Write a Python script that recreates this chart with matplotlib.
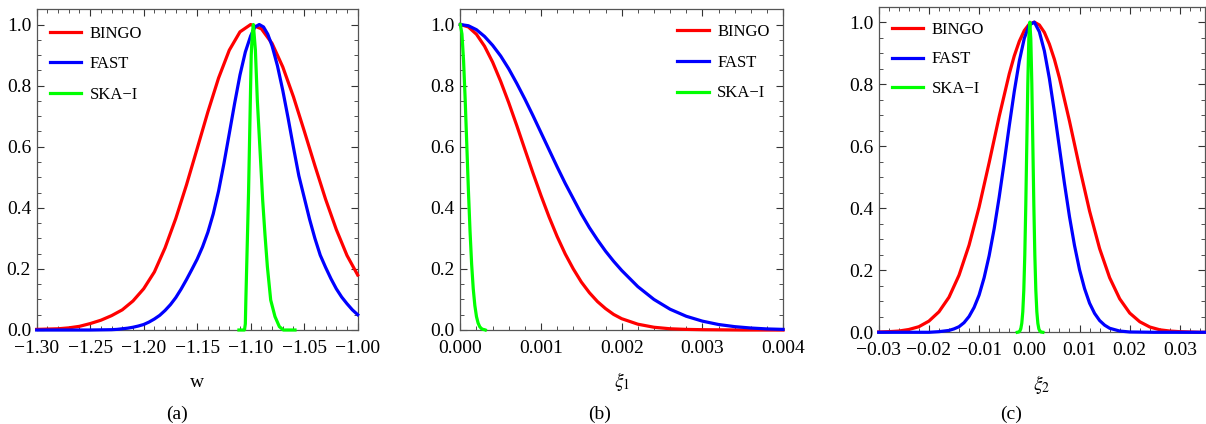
import matplotlib
matplotlib.use("Agg")
import matplotlib.pyplot as plt
from matplotlib.ticker import MultipleLocator, FuncFormatter

plt.rcParams['font.family'] = ['Liberation Serif', 'DejaVu Serif']
plt.rcParams['mathtext.fontset'] = 'stix'

labels = ['BINGO', 'FAST', 'SKA\u2212I']
colors = ['#ff0000', '#0000ff', '#00ff00']

# (a) w
w_bingo_x = [-1.30, -1.29, -1.28, -1.27, -1.26, -1.25, -1.24, -1.23, -1.22, -1.21,
             -1.20, -1.19, -1.18, -1.17, -1.16, -1.15, -1.14, -1.13, -1.12, -1.11,
             -1.10, -1.09, -1.08, -1.07, -1.06, -1.05, -1.04, -1.03, -1.02, -1.01,
             -1.00]
w_bingo_y = [0.002, 0.003, 0.004, 0.007, 0.012, 0.021, 0.032, 0.047, 0.066, 0.095,
             0.135, 0.190, 0.269, 0.365, 0.475, 0.594, 0.714, 0.825, 0.916, 0.976,
             1.000, 0.986, 0.938, 0.861, 0.763, 0.652, 0.538, 0.428, 0.329, 0.244,
             0.180]
w_fast_x = [-1.300, -1.250, -1.230, -1.225, -1.220, -1.215, -1.210, -1.205, -1.200, -1.195,
            -1.190, -1.185, -1.180, -1.175, -1.170, -1.165, -1.160, -1.155, -1.150, -1.145,
            -1.140, -1.135, -1.130, -1.125, -1.120, -1.115, -1.110, -1.105, -1.100, -1.096,
            -1.092, -1.088, -1.084, -1.080, -1.075, -1.070, -1.065, -1.060, -1.055, -1.050,
            -1.045, -1.040, -1.035, -1.030, -1.025, -1.020, -1.015, -1.010, -1.005, -1.000]
w_fast_y = [0.000, 0.000, 0.001, 0.002, 0.004, 0.006, 0.009, 0.013, 0.018, 0.026,
            0.036, 0.048, 0.064, 0.083, 0.106, 0.134, 0.165, 0.198, 0.232, 0.272,
            0.320, 0.380, 0.455, 0.545, 0.643, 0.742, 0.835, 0.910, 0.963, 0.992,
            1.000, 0.992, 0.968, 0.930, 0.865, 0.784, 0.693, 0.597, 0.505, 0.434,
            0.363, 0.300, 0.245, 0.205, 0.168, 0.135, 0.108, 0.086, 0.066, 0.050]
w_ska_x = [-1.1110, -1.1058, -1.1050, -1.1045, -1.1020, -1.0995, -1.0985, -1.0975, -1.0956, -1.0938,
           -1.0913, -1.0888, -1.0866, -1.0844, -1.0813, -1.0773, -1.0732, -1.0695, -1.0586]
w_ska_y = [0.000, 0.000, 0.020, 0.100, 0.450, 0.900, 0.970, 1.000, 0.916, 0.752,
           0.590, 0.425, 0.310, 0.207, 0.098, 0.044, 0.011, 0.000, 0.000]

# (b) xi_1
xi1_bingo_x = [0.0, 0.0001, 0.0002, 0.0003, 0.0004, 0.0005, 0.0006, 0.0007, 0.0008, 0.0009,
               0.0010, 0.0011, 0.0012, 0.0013, 0.0014, 0.0015, 0.0016, 0.0017, 0.0018, 0.0019,
               0.0020, 0.0022, 0.0024, 0.0026, 0.0028, 0.0030, 0.0035, 0.0040]
xi1_bingo_y = [1.000, 0.992, 0.968, 0.929, 0.877, 0.814, 0.744, 0.669, 0.591, 0.514,
               0.440, 0.370, 0.306, 0.249, 0.200, 0.157, 0.122, 0.093, 0.070, 0.051,
               0.037, 0.019, 0.009, 0.004, 0.002, 0.001, 0.000, 0.000]
xi1_fast_x = [0.0, 0.0001, 0.0002, 0.0003, 0.0004, 0.0005, 0.0006, 0.0007, 0.0008, 0.0009,
              0.0010, 0.0011, 0.0012, 0.0013, 0.0014, 0.0015, 0.0016, 0.0017, 0.0018, 0.0019,
              0.0020, 0.0022, 0.0024, 0.0026, 0.0028, 0.0030, 0.0032, 0.0034, 0.0036, 0.0038,
              0.0040]
xi1_fast_y = [1.000, 0.996, 0.983, 0.961, 0.932, 0.897, 0.855, 0.807, 0.756, 0.702,
              0.646, 0.590, 0.534, 0.480, 0.430, 0.380, 0.335, 0.295, 0.258, 0.225,
              0.195, 0.142, 0.100, 0.068, 0.045, 0.029, 0.018, 0.011, 0.0065, 0.0035,
              0.002]
xi1_ska_x = [0.0, 0.00002, 0.00004, 0.00006, 0.00008, 0.00010, 0.00012, 0.00014, 0.00016,
             0.00018, 0.00020, 0.00022, 0.00024, 0.00026, 0.00028, 0.00030, 0.00031]
xi1_ska_y = [1.000, 0.969, 0.882, 0.755, 0.607, 0.458, 0.325, 0.216, 0.135,
             0.080, 0.044, 0.023, 0.011, 0.005, 0.002, 0.001, 0.000]

# (c) xi_2
xi2_bingo_x = [-0.030, -0.028, -0.026, -0.024, -0.022, -0.020, -0.018, -0.016, -0.014, -0.012,
               -0.010, -0.008, -0.006, -0.004, -0.003, -0.002, -0.001, 0.000, 0.001, 0.002,
               0.003, 0.004, 0.005, 0.006, 0.008, 0.010, 0.012, 0.014, 0.016, 0.018,
               0.020, 0.022, 0.024, 0.026, 0.028, 0.030, 0.032, 0.034, 0.035]
xi2_bingo_y = [0.001, 0.002, 0.004, 0.009, 0.018, 0.036, 0.066, 0.113, 0.184, 0.281,
               0.404, 0.547, 0.696, 0.833, 0.891, 0.938, 0.973, 0.994, 1.000, 0.991,
               0.967, 0.929, 0.880, 0.820, 0.681, 0.532, 0.391, 0.270, 0.176, 0.108,
               0.062, 0.034, 0.017, 0.008, 0.004, 0.002, 0.001, 0.000, 0.000]
xi2_fast_x = [-0.030, -0.025, -0.020, -0.018, -0.016, -0.015, -0.014, -0.013, -0.012, -0.011,
              -0.010, -0.009, -0.008, -0.007, -0.006, -0.005, -0.004, -0.003, -0.002, -0.001,
              0.000, 0.001, 0.002, 0.003, 0.004, 0.005, 0.006, 0.007, 0.008, 0.009,
              0.010, 0.011, 0.012, 0.013, 0.014, 0.015, 0.016, 0.018, 0.020, 0.025,
              0.030, 0.035]
xi2_fast_y = [0.000, 0.000, 0.000, 0.002, 0.006, 0.011, 0.018, 0.031, 0.051, 0.080,
              0.120, 0.176, 0.247, 0.334, 0.436, 0.548, 0.665, 0.776, 0.874, 0.948,
              0.991, 1.000, 0.969, 0.907, 0.818, 0.710, 0.595, 0.480, 0.373, 0.280,
              0.202, 0.141, 0.094, 0.061, 0.038, 0.023, 0.013, 0.004, 0.001, 0.000,
              0.000, 0.000]
xi2_ska_x = [-0.0024, -0.0021, -0.0019, -0.0017, -0.0015, -0.0013, -0.0011, -0.0009, -0.0007,
             -0.0005, -0.0003, -0.0001, 0.0001, 0.0003, 0.0005, 0.0007, 0.0009, 0.0011,
             0.0013, 0.0015, 0.0017, 0.0019, 0.0021, 0.0023, 0.0027]
xi2_ska_y = [0.000, 0.001, 0.004, 0.011, 0.029, 0.066, 0.135, 0.249, 0.411,
             0.607, 0.801, 0.946, 1.000, 0.946, 0.801, 0.607, 0.411, 0.249,
             0.135, 0.066, 0.029, 0.011, 0.004, 0.001, 0.000]


def fmt(nd):
    def f(v, pos):
        s = f'{round(v, nd) + 0.0:.{nd}f}'
        return s.replace('-', '\u2212')
    return FuncFormatter(f)


def setup(ax, xlim, xmaj, xmin, nd, xlabel, leg_xy, spacing):
    ax.set_xlim(*xlim)
    ax.set_ylim(0, 1.05)
    ax.xaxis.set_major_locator(MultipleLocator(xmaj))
    ax.xaxis.set_minor_locator(MultipleLocator(xmin))
    ax.yaxis.set_major_locator(MultipleLocator(0.2))
    ax.yaxis.set_minor_locator(MultipleLocator(0.05))
    ax.xaxis.set_major_formatter(fmt(nd))
    ax.yaxis.set_major_formatter(fmt(1))
    ax.tick_params(which='both', direction='in', top=True, right=True, color='#333333')
    ax.tick_params(which='major', length=5, width=0.8, labelsize=14)
    ax.tick_params(which='minor', length=2.7, width=0.6)
    ax.tick_params(axis='x', pad=7)
    ax.tick_params(axis='y', pad=4)
    for sp in ax.spines.values():
        sp.set_color('#555555')
        sp.set_linewidth(0.9)
    ax.set_xlabel(xlabel, fontsize=14)
    ax.xaxis.label.set_va('baseline')
    ax.xaxis.set_label_coords(0.5, -0.178)
    ax.legend(frameon=False, loc='upper left', bbox_to_anchor=leg_xy,
              borderaxespad=0, borderpad=0, handlelength=1.9, handletextpad=0.5,
              labelspacing=spacing, fontsize=12)


fig = plt.figure(figsize=(12.06, 4.24), dpi=100)
ax1 = fig.add_axes([0.0304, 0.2217, 0.2662, 0.7565])
ax2 = fig.add_axes([0.3817, 0.2217, 0.2676, 0.7565])
ax3 = fig.add_axes([0.7286, 0.2163, 0.2706, 0.768])

panels = [
    (ax1, [(w_bingo_x, w_bingo_y), (w_fast_x, w_fast_y), (w_ska_x, w_ska_y)]),
    (ax2, [(xi1_bingo_x, xi1_bingo_y), (xi1_fast_x, xi1_fast_y), (xi1_ska_x, xi1_ska_y)]),
    (ax3, [(xi2_bingo_x, xi2_bingo_y), (xi2_fast_x, xi2_fast_y), (xi2_ska_x, xi2_ska_y)]),
]
for ax, series in panels:
    for (x, y), c, lab in zip(series, colors, labels):
        ax.plot(x, y, color=c, lw=2.3, label=lab, clip_on=False, zorder=3,
                solid_joinstyle='round')

setup(ax1, (-1.30, -1.00), 0.05, 0.01, 2, 'w', (0.041, 0.949), 0.87)
setup(ax2, (0.0, 0.004), 0.001, 0.0002, 3, r'$\xi_1$', (0.6715, 0.955), 0.89)
setup(ax3, (-0.03, 0.035), 0.01, 0.002, 2, r'$\xi_2$', (0.04, 0.953), 0.81)

fig.text(177 / 1206, 1 - 419 / 424, '(a)', fontsize=14, ha='center', va='baseline')
fig.text(600 / 1206, 1 - 419 / 424, '(b)', fontsize=14, ha='center', va='baseline')
fig.text(1011 / 1206, 1 - 419 / 424, '(c)', fontsize=14, ha='center', va='baseline')

fig.savefig('out.png', dpi=100)
